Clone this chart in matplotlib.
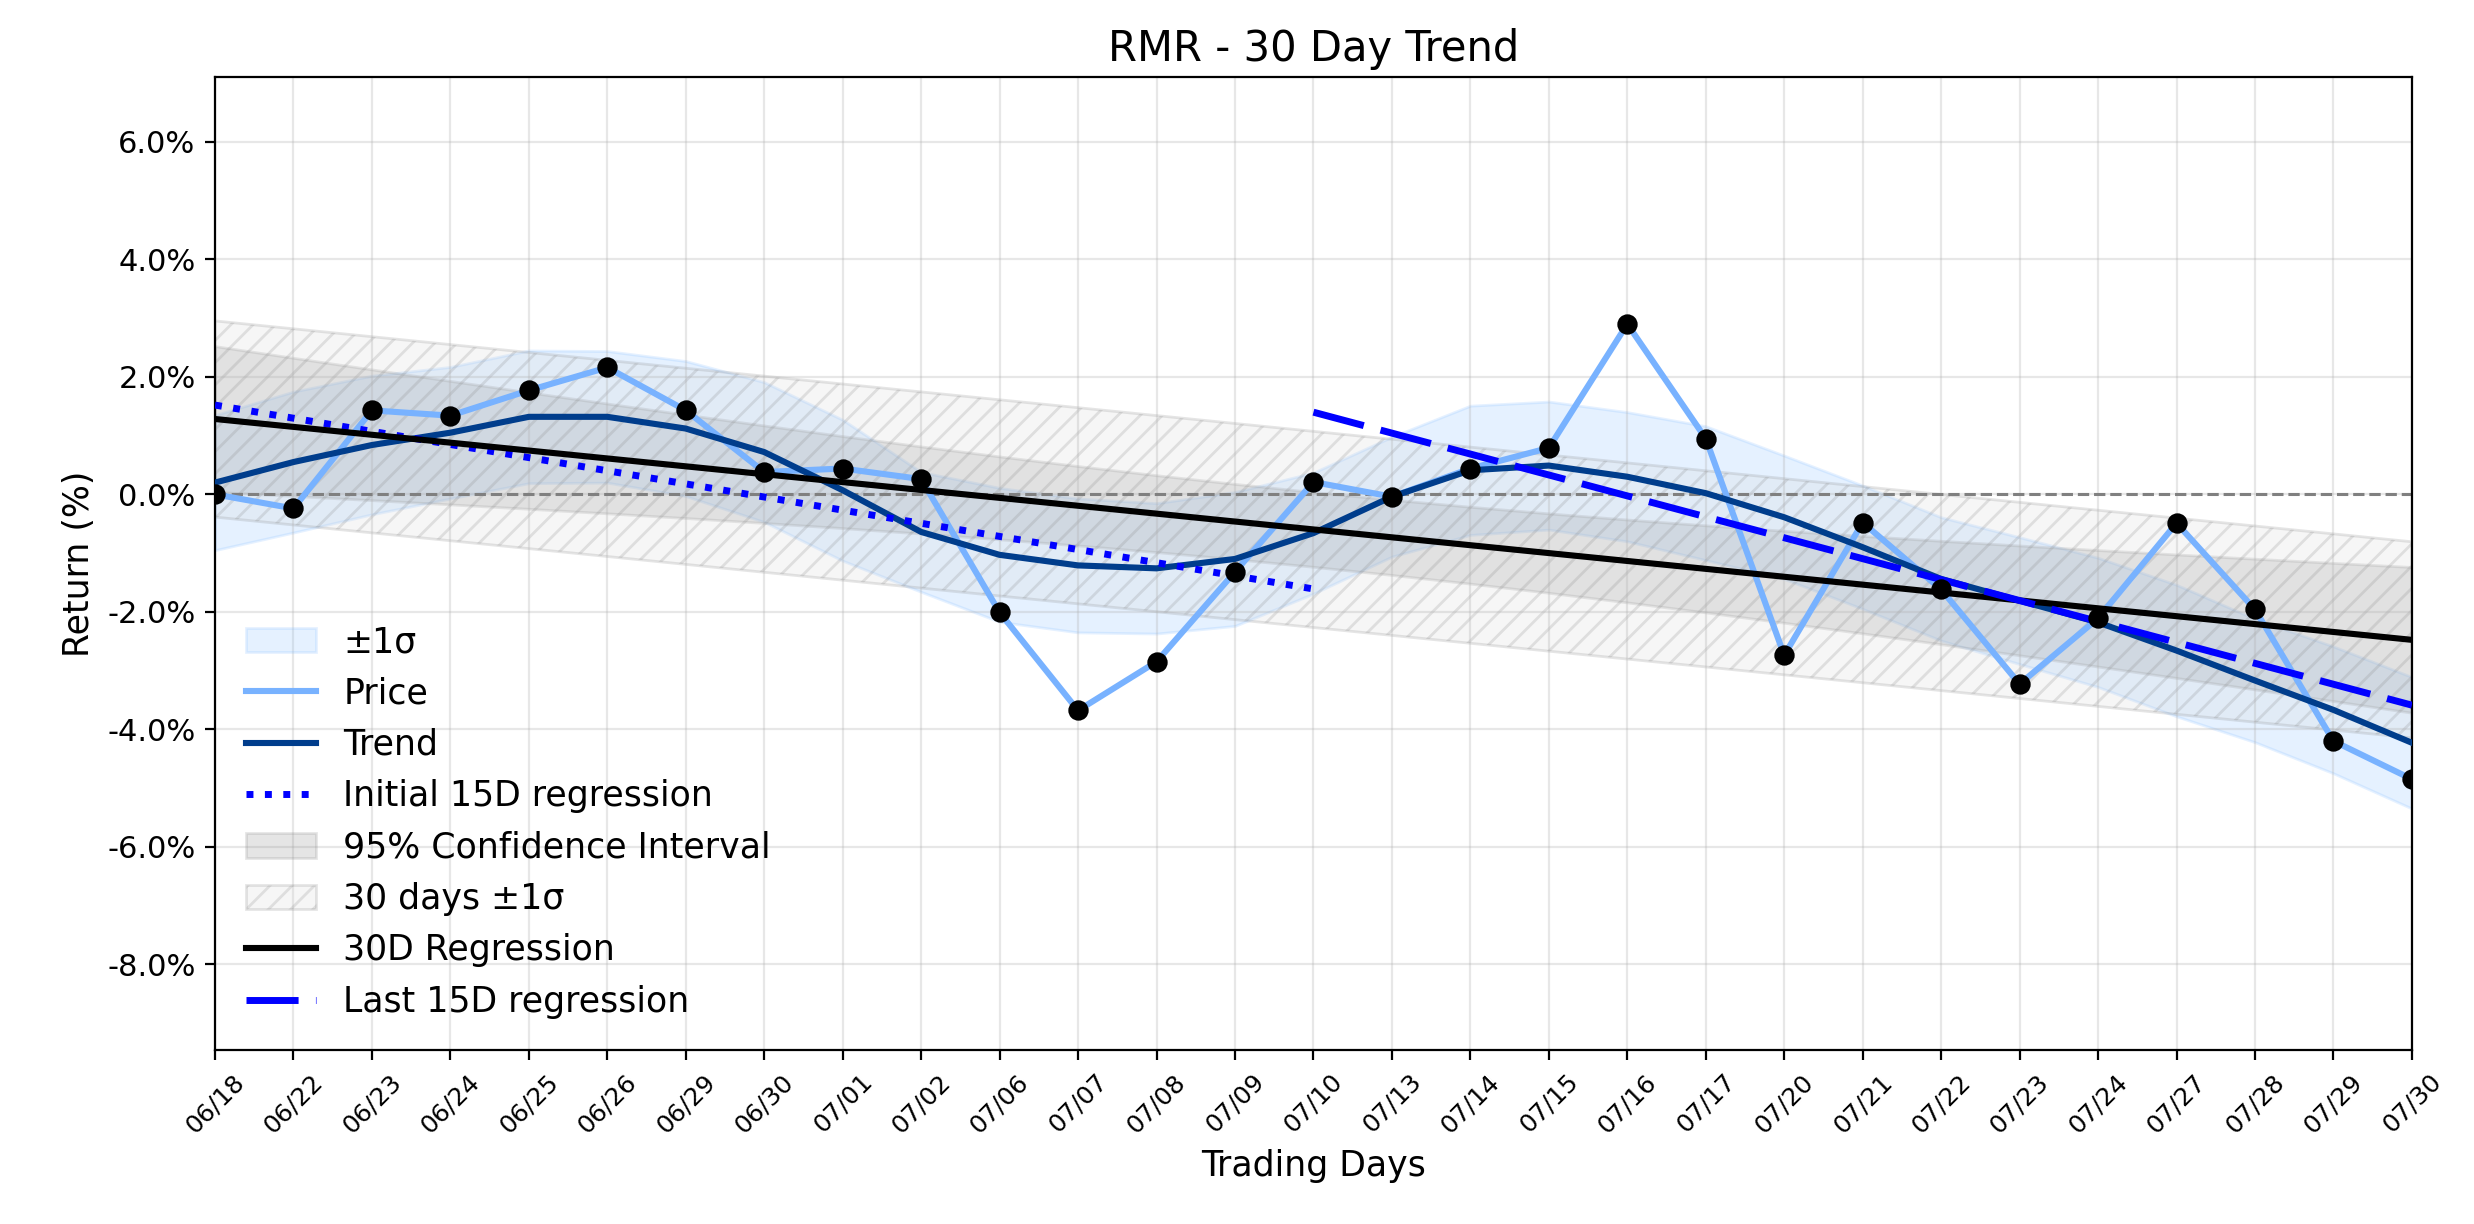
import numpy as np
import matplotlib
matplotlib.use("Agg")
import matplotlib.pyplot as plt
from matplotlib.ticker import FuncFormatter

# trading days shown on the x axis
dates = ["06/18", "06/22", "06/23", "06/24", "06/25", "06/26", "06/29", "06/30",
         "07/01", "07/02", "07/06", "07/07", "07/08", "07/09", "07/10", "07/13",
         "07/14", "07/15", "07/16", "07/17", "07/20", "07/21", "07/22", "07/23",
         "07/24", "07/27", "07/28", "07/29", "07/30"]

# cumulative return (%)
price = [0.00, -0.24, 1.43, 1.34, 1.77, 2.16, 1.43, 0.38, 0.44, 0.26,
         -2.01, -3.68, -2.85, -1.32, 0.21, -0.04, 0.44, 0.79, 2.90, 0.95,
         -2.74, -0.48, -1.62, -3.23, -2.11, -0.49, -1.96, -4.20, -4.85]

# smoothed trend and its +/-1 sigma width
trend = [0.20, 0.55, 0.84, 1.05, 1.32, 1.32, 1.12, 0.72, 0.07, -0.64,
         -1.03, -1.21, -1.26, -1.10, -0.66, -0.04, 0.41, 0.49, 0.30, 0.02,
         -0.39, -0.90, -1.44, -1.81, -2.18, -2.66, -3.17, -3.67, -4.23]
sigma = [1.15, 1.20, 1.18, 1.12, 1.13, 1.12, 1.15, 1.19, 1.20, 1.02,
         1.14, 1.14, 1.11, 1.14, 1.03, 1.02, 1.10, 1.09, 1.10, 1.14,
         1.05, 1.05, 1.05, 1.08, 1.10, 1.12, 1.05, 1.08, 1.12]

T_CRIT = 2.052  # t(0.975, n-2) for n = 29

x = np.arange(len(dates))
y = np.array(price)
tr = np.array(trend)
sg = np.array(sigma)

# 30-day regression with residual std and 95% CI of the fit
coef = np.polyfit(x, y, 1)
reg = np.polyval(coef, x)
resid_std = np.sqrt(np.sum((y - reg) ** 2) / (len(x) - 2))
sxx = np.sum((x - x.mean()) ** 2)
ci = T_CRIT * resid_std * np.sqrt(1 / len(x) + (x - x.mean()) ** 2 / sxx)

# first / last 15 days regressions
x_first, x_last = x[:15], x[14:]
reg_first = np.polyval(np.polyfit(x_first, y[:15], 1), x_first)
reg_last = np.polyval(np.polyfit(x_last, y[14:], 1), x_last)

fig = plt.figure(figsize=(12.37, 6.12), dpi=200)
ax = fig.add_axes([0.0869, 0.1422, 0.888, 0.7946])

ax.fill_between(x, tr - sg, tr + sg, color="#80bbff", alpha=0.2, label="±1σ")
ax.plot(x, y, color="#78b2ff", lw=2.2, label="Price", zorder=3)
ax.plot(x, tr, color="#003d8c", lw=2.2, label="Trend", zorder=3)
ax.plot(x_first, reg_first, color="blue", lw=2.5, linestyle=":",
        label="Initial 15D regression", zorder=3)
ax.fill_between(x, reg - ci, reg + ci, color="gray", alpha=0.2,
                label="95% Confidence Interval")
ax.fill_between(x, reg - resid_std, reg + resid_std, facecolor="lightgray",
                edgecolor="gray", hatch="///", alpha=0.2, linewidth=1,
                label="30 days ±1σ")
ax.plot(x, reg, color="black", lw=2.2, label="30D Regression", zorder=3)
ax.plot(x_last, reg_last, color="blue", lw=2.5, linestyle=(0, (7.5, 2.5)),
        label="Last 15D regression", zorder=3)
ax.axhline(0, color="gray", linestyle="--", lw=1.1, zorder=2)
ax.scatter(x, y, color="black", s=40, zorder=5)

ax.set_xlim(0, len(x) - 1)
ax.set_ylim(-9.46, 7.10)
ax.set_xticks(x)
ax.set_xticklabels(dates, rotation=45, fontsize=9)
ax.set_yticks(np.arange(-8, 7, 2))
ax.yaxis.set_major_formatter(FuncFormatter(lambda v, _: f"{v:.1f}%"))
ax.tick_params(axis="y", labelsize=11)
ax.grid(True, alpha=0.3)

ax.set_title("RMR - 30 Day Trend", fontsize=15)
ax.set_xlabel("Trading Days", fontsize=12.5)
ax.set_ylabel("Return (%)", fontsize=12.5)
ax.legend(loc="lower left", frameon=False, fontsize=12.5)

fig.savefig("out.png", dpi=200)
